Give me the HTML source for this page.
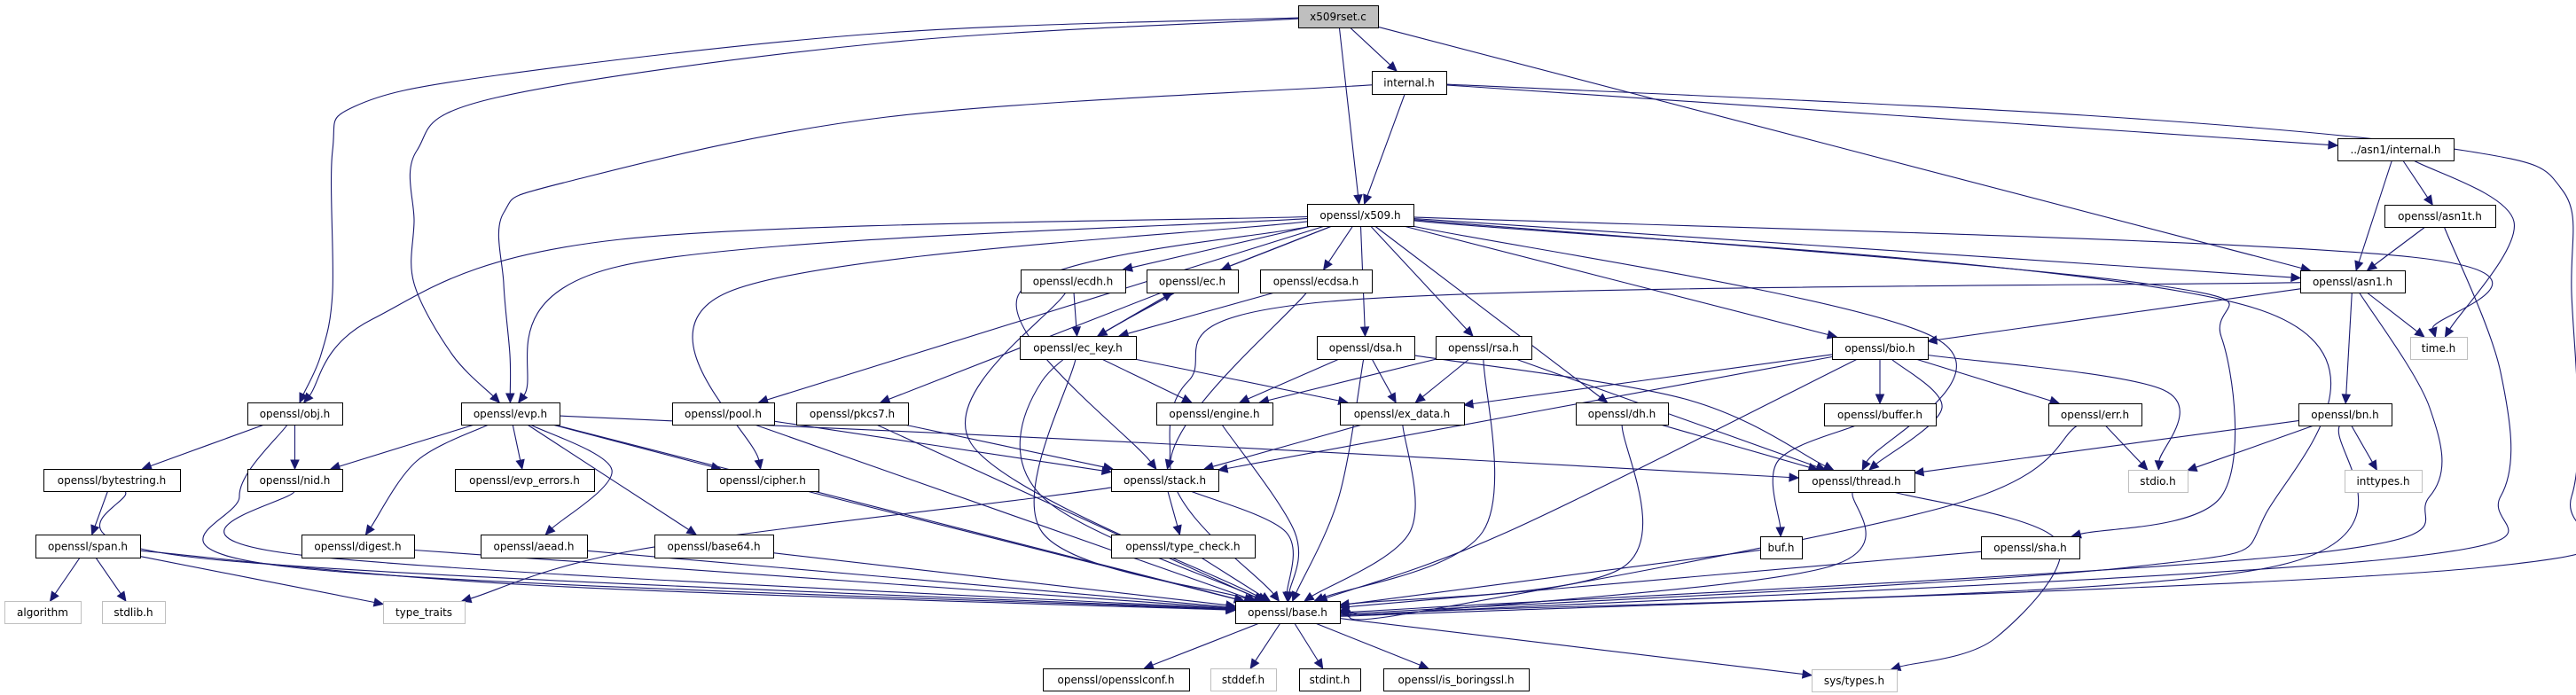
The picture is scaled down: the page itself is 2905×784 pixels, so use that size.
<!DOCTYPE html>
<html><head><meta charset="utf-8">
<style>
html,body{margin:0;padding:0;background:#fff;}
svg{display:block;}
text{font-family:"DejaVu Sans","Liberation Sans",sans-serif;font-size:12px;fill:#000;}
</style></head>
<body>
<svg id="g" xmlns="http://www.w3.org/2000/svg" width="2905" height="784" viewBox="0 0 2905 784"></svg>
<script>
var N={
x509rset:[1464,6,1554,31,"x509rset.c",2],
internal:[1547,80,1631,106,"internal.h",0],
asn1int:[2636,156,2767,181,"../asn1/internal.h",0],
x509:[1474,230,1594,255,"openssl/x509.h",0],
asn1t:[2689,231,2814,256,"openssl/asn1t.h",0],
ecdh:[1151,304,1269,330,"openssl/ecdh.h",0],
ec:[1293,304,1396,330,"openssl/ec.h",0],
ecdsa:[1421,304,1547,330,"openssl/ecdsa.h",0],
asn1:[2594,305,2712,330,"openssl/asn1.h",0],
eckey:[1150,379,1281,405,"openssl/ec_key.h",0],
dsa:[1485,379,1595,405,"openssl/dsa.h",0],
rsa:[1619,379,1727,405,"openssl/rsa.h",0],
bio:[2066,380,2174,405,"openssl/bio.h",0],
time:[2718,380,2782,405,"time.h",1],
obj:[279,454,386,479,"openssl/obj.h",0],
evp:[520,454,631,479,"openssl/evp.h",0],
pool:[758,454,873,479,"openssl/pool.h",0],
pkcs7:[898,454,1024,479,"openssl/pkcs7.h",0],
engine:[1304,454,1435,479,"openssl/engine.h",0],
exdata:[1511,454,1651,479,"openssl/ex_data.h",0],
dh:[1777,454,1881,479,"openssl/dh.h",0],
buffer:[2057,455,2183,480,"openssl/buffer.h",0],
err:[2310,455,2415,480,"openssl/err.h",0],
bn:[2592,455,2697,480,"openssl/bn.h",0],
bytestring:[49,529,203,554,"openssl/bytestring.h",0],
nid:[279,529,386,554,"openssl/nid.h",0],
evperr:[513,529,670,554,"openssl/evp_errors.h",0],
cipher:[797,529,923,554,"openssl/cipher.h",0],
stack:[1253,529,1374,554,"openssl/stack.h",0],
thread:[2028,530,2159,555,"openssl/thread.h",0],
stdio:[2400,530,2467,555,"stdio.h",1],
inttypes:[2644,530,2731,555,"inttypes.h",1],
span:[40,603,158,629,"openssl/span.h",0],
digest:[340,603,467,629,"openssl/digest.h",0],
aead:[542,603,662,629,"openssl/aead.h",0],
base64:[738,603,872,629,"openssl/base64.h",0],
typecheck:[1253,603,1415,629,"openssl/type_check.h",0],
buf:[1985,605,2032,630,"buf.h",0],
sha:[2234,605,2345,630,"openssl/sha.h",0],
algorithm:[5,678,91,703,"algorithm",1],
stdlib:[115,678,186,703,"stdlib.h",1],
typetraits:[432,678,524,703,"type_traits",1],
base:[1393,678,1511,703,"openssl/base.h",0],
conf:[1176,754,1341,779,"openssl/opensslconf.h",0],
stddef:[1365,754,1439,779,"stddef.h",1],
stdint:[1465,754,1534,779,"stdint.h",0],
isbssl:[1560,754,1724,779,"openssl/is_boringssl.h",0],
systypes:[2043,755,2139,780,"sys/types.h",1]
};
var E=[
["x509rset","internal"],["x509rset","x509"],["x509rset","asn1"],
["x509rset","obj",[[1000,37],[560,85],[400,120],[375,170],[375,330],[362,400]]],
["x509rset","evp",[[1000,48],[560,110],[470,170],[467,250],[467,320],[510,400]]],
["internal","x509"],["internal","asn1int"],
["internal","evp",[[1000,132],[640,205],[568,240],[568,320],[575,400]]],
["internal","base",[[2350,130],[2780,170],[2890,215],[2900,330],[2900,560],[2800,640],[1600,692]]],
["asn1int","asn1"],["asn1int","asn1t"],["asn1int","time",[[2835,250]]],
["asn1t","asn1"],["asn1t","base",[[2820,420],[2820,560],[2700,630],[1600,690]]],
["x509","asn1"],["x509","bio"],["x509","cipher",[[820,330]]],["x509","dh"],["x509","dsa"],["x509","ec"],["x509","ecdh"],["x509","ecdsa"],
["x509","evp",[[700,300]]],["x509","obj",[[700,270],[420,360]]],["x509","pkcs7"],["x509","pool"],["x509","rsa"],
["x509","sha",[[2420,320],[2505,380],[2505,560]]],["x509","stack",[[1150,330]]],["x509","thread",[[2180,380]]],
["x509","time",[[2720,290]]],["x509","base",[[2550,350],[2555,580],[2400,640],[1600,688]]],
["asn1","base",[[2740,460],[2740,560],[2600,625],[1600,686]]],["asn1","time"],["asn1","bio"],["asn1","bn"],["asn1","stack",[[1500,340],[1340,430]]],
["bio","base",[[1700,600]]],["bio","buffer"],["bio","err"],["bio","exdata"],["bio","stack"],["bio","thread",[[2190,460]]],["bio","stdio",[[2440,440]]],
["bn","base",[[2560,640],[1600,690]]],["bn","thread"],["bn","inttypes"],["bn","stdio"],
["err","base",[[2200,570],[1600,690]]],["err","stdio"],
["buffer","buf",[[2005,520]]],["buf","base"],
["thread","base",[[2060,640],[1600,690]]],["thread","systypes",[[2320,610],[2250,720]]],
["sha","base"],
["dh","base",[[1830,640]]],["dh","thread"],
["rsa","base",[[1672,600]]],["rsa","engine"],["rsa","exdata"],["rsa","thread"],
["dsa","base",[[1510,560]]],["dsa","engine"],["dsa","exdata"],["dsa","thread",[[1900,450]]],
["ecdsa","base",[[1320,520]]],["ecdsa","eckey"],
["ecdh","base",[[1095,500]]],["ecdh","eckey"],
["ec","base",[[1175,430],[1175,560]]],["ec","eckey"],["eckey","ec"],
["eckey","base",[[1175,600]]],["eckey","engine"],["eckey","exdata"],
["engine","base",[[1460,600]]],["exdata","base",[[1590,600]]],["exdata","stack"],
["stack","base",[[1450,600]]],["stack","typecheck"],["stack","typetraits",[[1180,560],[720,620]]],
["typecheck","base"],
["pool","base"],["pool","stack"],["pkcs7","base"],["pkcs7","stack"],
["evp","base"],["evp","nid"],["evp","evperr"],["evp","cipher"],["evp","digest",[[470,520]]],["evp","aead",[[690,530]]],["evp","base64"],["evp","thread",[[1300,500]]],
["cipher","base"],["digest","base"],["aead","base"],["base64","base"],
["obj","base",[[270,560],[330,640]]],["obj","bytestring"],["obj","nid"],
["nid","base",[[330,625]]],
["bytestring","base",[[230,630]]],["bytestring","span"],
["span","algorithm"],["span","stdlib"],["span","typetraits"],["span","base",[[600,660]]],
["base","conf"],["base","stddef"],["base","stdint"],["base","isbssl"],["base","systypes"]
];
var svg=document.getElementById("g"),out="";
function ctr(n){return [(n[0]+n[2])/2,(n[1]+n[3])/2];}
function clip(n,p,q){ // point on border of n along segment from center c toward q
 var c=ctr(n),dx=q[0]-c[0],dy=q[1]-c[1],hw=(n[2]-n[0])/2,hh=(n[3]-n[1])/2;
 var t=Math.min(dx?hw/Math.abs(dx):1e9,dy?hh/Math.abs(dy):1e9);
 return [c[0]+dx*t,c[1]+dy*t];
}
E.forEach(function(e){
 var s=N[e[0]],t=N[e[1]],wp=e[2]||[];
 var cs=ctr(s),ct=ctr(t);
 var first=wp.length?wp[0]:ct,last=wp.length?wp[wp.length-1]:cs;
 var p0=clip(s,cs,first),pN=clip(t,ct,last);
 var pts=[p0].concat(wp,[pN]);
 // shorten end for arrow
 var a=pts[pts.length-2],b=pN,dx=b[0]-a[0],dy=b[1]-a[1],L=Math.sqrt(dx*dx+dy*dy)||1,ux=dx/L,uy=dy/L;
 var ab=[b[0]-ux*10,b[1]-uy*10];
 pts[pts.length-1]=ab;
 var d="M"+pts[0][0].toFixed(1)+","+pts[0][1].toFixed(1);
 for(var i=0;i<pts.length-1;i++){
  var p0_=pts[Math.max(i-1,0)],p1=pts[i],p2=pts[i+1],p3=pts[Math.min(i+2,pts.length-1)];
  var c1=[p1[0]+(p2[0]-p0_[0])/6,p1[1]+(p2[1]-p0_[1])/6],c2=[p2[0]-(p3[0]-p1[0])/6,p2[1]-(p3[1]-p1[1])/6];
  d+=" C"+c1[0].toFixed(1)+","+c1[1].toFixed(1)+" "+c2[0].toFixed(1)+","+c2[1].toFixed(1)+" "+p2[0].toFixed(1)+","+p2[1].toFixed(1);
 }
 out+='<path d="'+d+'" fill="none" stroke="#191970" stroke-width="1.1"/>';
 out+='<polygon points="'+b[0].toFixed(1)+','+b[1].toFixed(1)+' '+(ab[0]-uy*4.5).toFixed(1)+','+(ab[1]+ux*4.5).toFixed(1)+' '+(ab[0]+uy*4.5).toFixed(1)+','+(ab[1]-ux*4.5).toFixed(1)+'" fill="#191970" stroke="#191970"/>';
});
for(var k in N){var n=N[k];
 var fill=n[5]==2?"#bfbfbf":"#fff",st=n[5]==1?"#bfbfbf":"#000";
 out+='<rect x="'+(n[0]+0.5)+'" y="'+(n[1]+0.5)+'" width="'+(n[2]-n[0])+'" height="'+(n[3]-n[1])+'" fill="'+fill+'" stroke="'+st+'" stroke-width="1"/>';
 out+='<text x="'+((n[0]+n[2])/2)+'" y="'+((n[1]+n[3])/2+4.5)+'" text-anchor="middle">'+n[4]+'</text>';
}
svg.innerHTML=out;
</script>
</body></html>
